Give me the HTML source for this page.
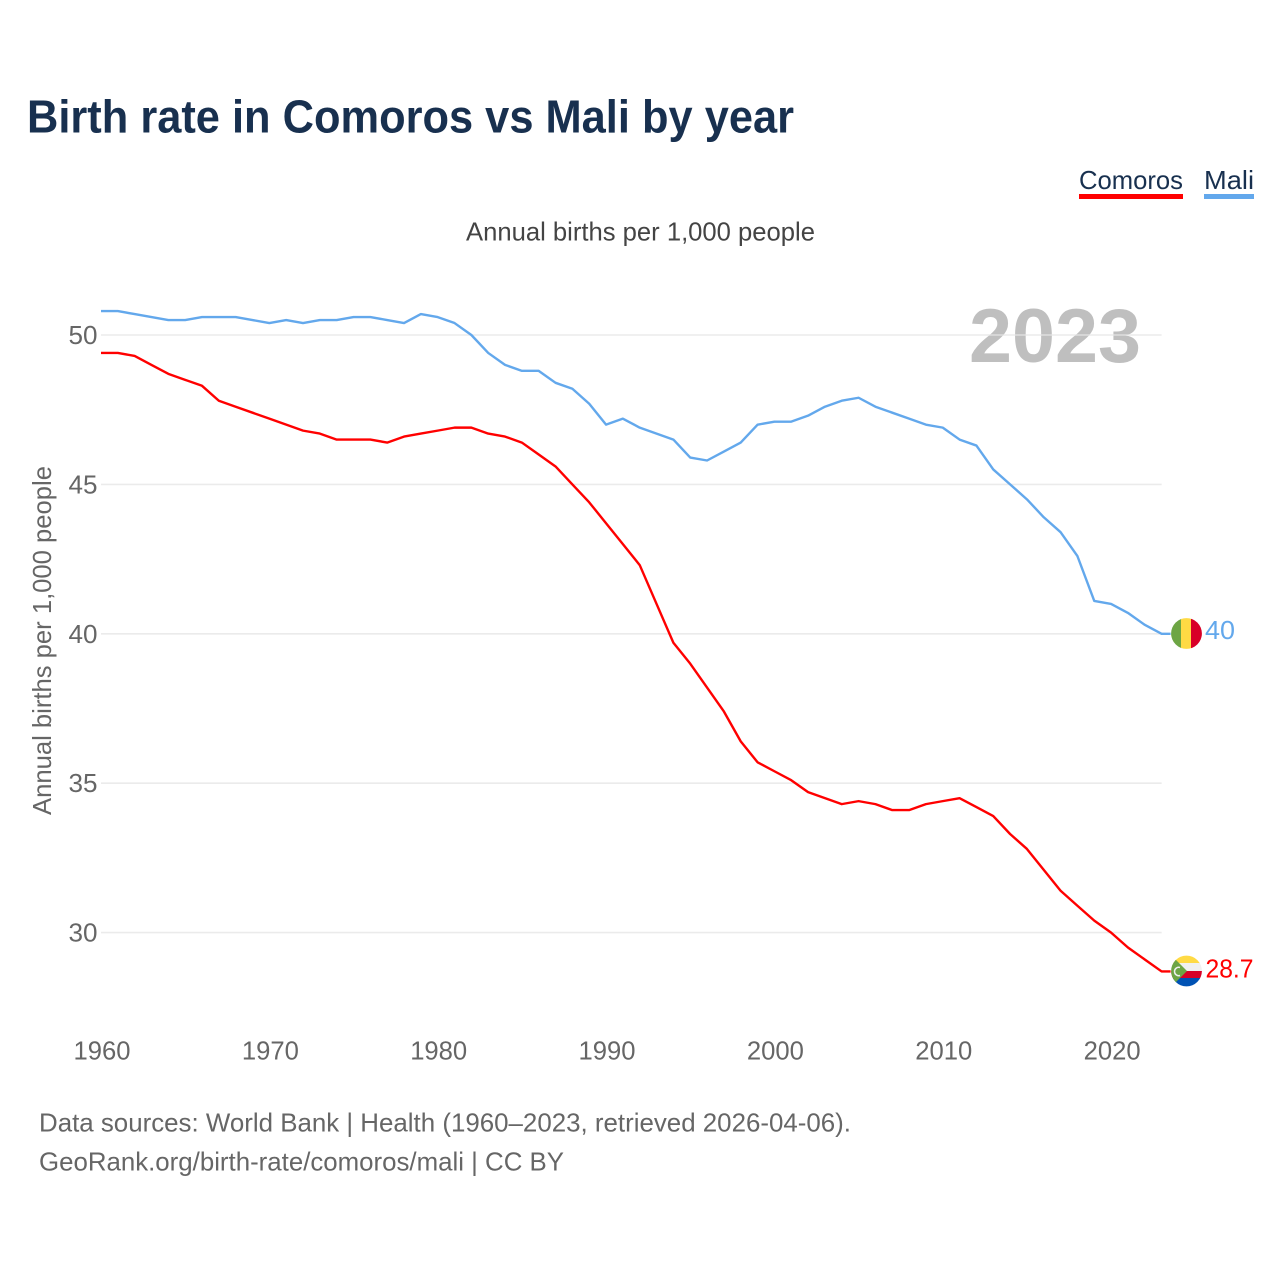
<!DOCTYPE html>
<html lang="en">
<head>
<meta charset="utf-8">
<title>Birth rate in Comoros vs Mali by year</title>
<style>
html,body{margin:0;padding:0;background:#fff;width:1280px;height:1280px;overflow:hidden}
svg{display:block}
text{font-family:"Liberation Sans","DejaVu Sans",sans-serif}
</style>
</head>
<body>
<svg id="chart" xmlns="http://www.w3.org/2000/svg" width="1280" height="1280" viewBox="0 0 1280 1280">
  <defs>
    <clipPath id="clip-mali"><circle cx="1186.5" cy="633.5" r="15.4"/></clipPath>
    <clipPath id="clip-comoros"><circle cx="1186.5" cy="971" r="15.4"/></clipPath>
  </defs>
  <rect width="1280" height="1280" fill="#fff"/>
  <text x="27" y="132.5" font-size="46" font-weight="700" fill="#18304f" textLength="767" lengthAdjust="spacingAndGlyphs">Birth rate in Comoros vs Mali by year</text>

  <g>
    <text x="1079" y="189" font-size="26" fill="#18304f" textLength="104" lengthAdjust="spacingAndGlyphs">Comoros</text>
    <rect x="1079" y="194" width="104" height="5" fill="#ff0000"/>
  </g>
  <g>
    <text x="1204" y="189" font-size="26" fill="#18304f" textLength="50" lengthAdjust="spacingAndGlyphs">Mali</text>
    <rect x="1204" y="194" width="50" height="5" fill="#63a8ec"/>
  </g>

  <text x="466" y="240.5" font-size="26" fill="#444" textLength="349" lengthAdjust="spacingAndGlyphs">Annual births per 1,000 people</text>
  <text transform="translate(51,815) rotate(-90)" font-size="26" fill="#666" textLength="349" lengthAdjust="spacingAndGlyphs">Annual births per 1,000 people</text>

  <text x="969" y="362" font-size="76" font-weight="700" fill="#bfbfbf" textLength="172" lengthAdjust="spacingAndGlyphs">2023</text>

  <g id="grid"></g>
  <g id="y-ticks"></g>
  <g id="x-ticks"></g>

  <g id="series"></g>

  <g clip-path="url(#clip-mali)">
    <rect x="1171" y="617" width="11" height="33" fill="#6da544"/>
    <rect x="1181" y="617" width="11" height="33" fill="#ffda44"/>
    <rect x="1191" y="617" width="11" height="33" fill="#d80027"/>
  </g>
  <g clip-path="url(#clip-comoros)">
    <rect x="1171" y="955" width="32" height="9" fill="#ffda44"/>
    <rect x="1171" y="963" width="32" height="9" fill="#f0f0f0"/>
    <rect x="1171" y="971" width="32" height="8" fill="#d80027"/>
    <rect x="1171" y="978" width="32" height="9" fill="#0052b4"/>
    <polygon points="1171,955 1171,987 1187,971" fill="#6da544"/>
    <path d="M1180,967.5 A4.2,4.2 0 1 0 1180,975.5" fill="none" stroke="#f0f0f0" stroke-width="1.5"/>
  </g>
  <text id="label-mali" x="1205" y="639" font-size="26" fill="#63a8ec" textLength="30" lengthAdjust="spacingAndGlyphs"></text>
  <text id="label-comoros" x="1205.5" y="977.5" font-size="26" fill="#ff0000" textLength="48" lengthAdjust="spacingAndGlyphs"></text>

  <text x="39" y="1131.5" font-size="26" fill="#666" textLength="812" lengthAdjust="spacingAndGlyphs">Data sources: World Bank | Health (1960–2023, retrieved 2026-04-06).</text>
  <a><text x="39" y="1170.5" font-size="26" fill="#666" textLength="525" lengthAdjust="spacingAndGlyphs">GeoRank.org/birth-rate/comoros/mali | CC BY</text></a>
</svg>
<script>
const startYear = 1960;
const xTickLabels = [1960, 1970, 1980, 1990, 2000, 2010, 2020];
const yTickLabels = [30, 35, 40, 45, 50];
const comorosValues = [49.4,49.4,49.3,49.0,48.7,48.5,48.3,47.8,47.6,47.4,47.2,47.0,46.8,46.7,46.5,46.5,46.5,46.4,46.6,46.7,46.8,46.9,46.9,46.7,46.6,46.4,46.0,45.6,45.0,44.4,43.7,43.0,42.3,41.0,39.7,39.0,38.2,37.4,36.4,35.7,35.4,35.1,34.7,34.5,34.3,34.4,34.3,34.1,34.1,34.3,34.4,34.5,34.2,33.9,33.3,32.8,32.1,31.4,30.9,30.4,30.0,29.5,29.1,28.7];
const maliValues = [50.8,50.8,50.7,50.6,50.5,50.5,50.6,50.6,50.6,50.5,50.4,50.5,50.4,50.5,50.5,50.6,50.6,50.5,50.4,50.7,50.6,50.4,50.0,49.4,49.0,48.8,48.8,48.4,48.2,47.7,47.0,47.2,46.9,46.7,46.5,45.9,45.8,46.1,46.4,47.0,47.1,47.1,47.3,47.6,47.8,47.9,47.6,47.4,47.2,47.0,46.9,46.5,46.3,45.5,45.0,44.5,43.9,43.4,42.6,41.1,41.0,40.7,40.3,40.0];

const NS = 'http://www.w3.org/2000/svg';
function xScale(year) { return 101 + (year - 1960) * 16.835; }
function yScale(v) { return 335 + (50 - v) * 29.88; }
function make(tag, attrs, parent) {
  const el = document.createElementNS(NS, tag);
  for (const k in attrs) el.setAttribute(k, attrs[k]);
  parent.appendChild(el);
  return el;
}
const gridG = document.getElementById('grid');
const yG = document.getElementById('y-ticks');
const xG = document.getElementById('x-ticks');
const seriesG = document.getElementById('series');

yTickLabels.forEach(function (v) {
  const line = make('line', {x1: xScale(1960), x2: xScale(2023), y1: yScale(v), y2: yScale(v), stroke: '#e6e6e6', 'stroke-opacity': 0.8, 'stroke-width': 1.6}, gridG);
  
  
  const t = make('text', {x: 97.5, y: yScale(v) + 9, 'font-size': 26, fill: '#666', 'text-anchor': 'end', textLength: 29, lengthAdjust: 'spacingAndGlyphs'}, yG);
  
  
  t.textContent = v;
});
xTickLabels.forEach(function (yr) {
  const t = make('text', {x: xScale(yr) + 1, y: 1059.5, 'font-size': 26, fill: '#666', 'text-anchor': 'middle', textLength: 57, lengthAdjust: 'spacingAndGlyphs'}, xG);
  
  
  t.textContent = yr;
});
function drawSeries(values, color, name) {
  const pts = values.map(function (v, i) { return xScale(startYear + i).toFixed(2) + ',' + yScale(v).toFixed(2); });
  const lastX = xScale(startYear + values.length - 1);
  const lastY = yScale(values[values.length - 1]);
  pts.push((lastX + 9).toFixed(2) + ',' + lastY.toFixed(2));
  const p = make('polyline', {points: pts.join(' '), fill: 'none', stroke: color, 'stroke-width': 2.4, 'stroke-linejoin': 'round'}, seriesG);
  
  
}
drawSeries(maliValues, '#63a8ec', 'line-mali');
drawSeries(comorosValues, '#ff0000', 'line-comoros');
document.getElementById('label-mali').textContent = maliValues[maliValues.length - 1];
document.getElementById('label-comoros').textContent = comorosValues[comorosValues.length - 1];
</script>
</body>
</html>
